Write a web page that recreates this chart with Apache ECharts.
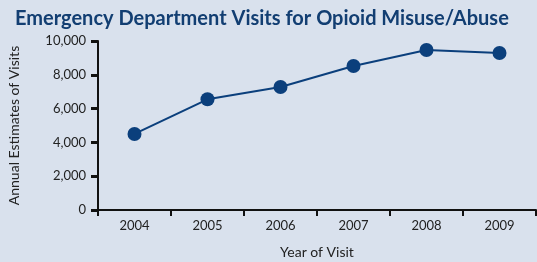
<!DOCTYPE html>
<html>
<head>
<meta charset="utf-8">
<script src="https://cdn.jsdelivr.net/npm/echarts@6/dist/echarts.min.js"></script>
<style>
  html, body { margin: 0; padding: 0; background: #d9e1ed; }
  #chart { width: 537px; height: 262px; }
</style>
</head>
<body>
<div id="chart"></div>
<script>
// chart data
const years = ['2004', '2005', '2006', '2007', '2008', '2009']
const visits = [4500, 6550, 7280, 8520, 9470, 9290]
const yTicks = [0, 2000, 4000, 6000, 8000, 10000]

const navy = '#0b3f7c'
const chart = echarts.init(document.getElementById('chart'))
chart.setOption({
  backgroundColor: '#d9e1ed',
  animation: false,
  title: {
    text: 'Emergency Department Visits for Opioid Misuse/Abuse',
    left: 10,
    top: 4,
    textStyle: {
      fontFamily: 'Lato',
      fontWeight: 'bold',
      fontSize: 20,
      color: '#123e72'
    }
  },
  grid: {
    left: 98,
    right: 1,
    top: 41,
    bottom: 52,
    outerBoundsMode: 'none'
  },
  xAxis: {
    type: 'category',
    data: years,
    name: 'Year of Visit',
    nameLocation: 'middle',
    nameGap: 35,
    nameTextStyle: { fontFamily: 'Lato', fontSize: 14, color: '#222' },
    axisLine: { lineStyle: { color: '#111', width: 2 } },
    axisTick: { show: true, length: 6, lineStyle: { color: '#111', width: 2 } },
    axisLabel: { fontFamily: 'Lato', fontSize: 13, color: '#222', margin: 9 }
  },
  yAxis: {
    type: 'value',
    min: 0,
    max: 10000,
    interval: 2000,
    name: 'Annual Estimates of Visits',
    nameLocation: 'middle',
    nameGap: 77,
    nameTextStyle: { fontFamily: 'Lato', fontSize: 14, color: '#222' },
    splitLine: { show: false },
    axisLine: { show: true, lineStyle: { color: '#111', width: 2 } },
    axisTick: { show: true, length: 7, lineStyle: { color: '#111', width: 3 } },
    axisLabel: {
      fontFamily: 'Lato',
      fontSize: 13,
      color: '#222',
      margin: 12,
      formatter: v => (yTicks.includes(v) ? v.toLocaleString('en-US') : '')
    }
  },
  series: [{
    type: 'line',
    data: visits,
    symbol: 'circle',
    symbolSize: 14,
    lineStyle: { color: navy, width: 2 },
    itemStyle: { color: navy }
  }]
})
</script>
</body>
</html>
